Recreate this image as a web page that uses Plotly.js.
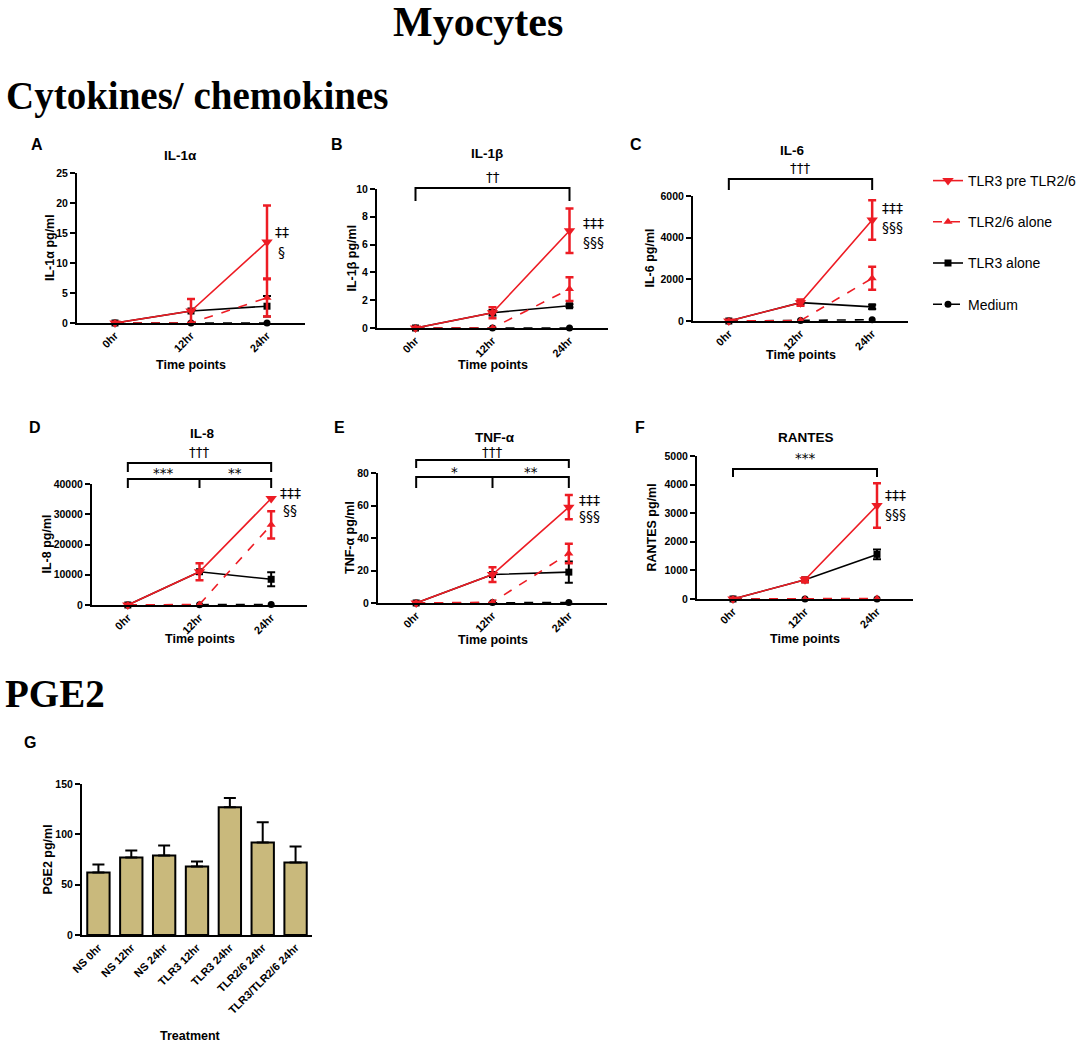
<!DOCTYPE html>
<html>
<head>
<meta charset="utf-8">
<script src="https://cdn.plot.ly/plotly-3.0.1.min.js"></script>
<style>
  body { margin: 0; background: #fff; }
  #chart { width: 1084px; height: 1044px; }
</style>
</head>
<body>
<div id="chart"></div>
<script>
// ---- data ----
const timePoints = ["0hr", "12hr", "24hr"];
const seriesNames = ["TLR3 pre TLR2/6", "TLR2/6 alone", "TLR3 alone", "Medium"];

// rows follow seriesNames: mean, then error (SEM)
const il1aMean = [[0, 2, 13.5], [0, 0, 4.2], [0, 2, 2.8], [0, 0, 0]];
const il1aErr = [[0, 2, 6.1], [0, 0, 3.1], [0, 0, 1.7], [0, 0, 0]];

const il1bMean = [[0, 1.1, 7.0], [0, 0, 2.8], [0, 1.1, 1.6], [0, 0, 0]];
const il1bErr = [[0, 0.4, 1.6], [0, 0, 0.85], [0, 0.2, 0.1], [0, 0, 0]];

const il6Mean = [[0, 880, 4850], [0, 20, 2050], [0, 880, 680], [0, 20, 60]];
const il6Err = [[0, 150, 950], [0, 0, 550], [0, 80, 100], [0, 0, 0]];

const il8Mean = [[0, 11000, 35200], [0, 200, 26500], [0, 11000, 8500], [0, 100, 200]];
const il8Err = [[0, 2800, 0], [0, 0, 4500], [0, 0, 2300], [0, 0, 0]];

const tnfMean = [[0, 17.5, 59], [0, 0.5, 30.5], [0, 17.5, 19], [0, 0.3, 0.3]];
const tnfErr = [[0, 4.5, 7.5], [0, 0, 6], [0, 0, 6.5], [0, 0, 0]];

const rantesMean = [[0, 670, 3270], [0, 0, 20], [0, 670, 1560], [0, 0, 0]];
const rantesErr = [[0, 80, 780], [0, 0, 0], [0, 60, 170], [0, 0, 0]];

const pgeLabels = ["NS 0hr", "NS 12hr", "NS 24hr", "TLR3 12hr", "TLR3 24hr", "TLR2/6 24hr", "TLR3/TLR2/6 24hr"];
const pgeMean = [62, 77, 79, 68, 127, 92, 72];
const pgeErr = [8, 7, 10, 5, 9, 20, 16];

// ---- styling ----
const W = 1084, H = 1044;
const px = (v) => v / W;
const py = (v) => 1 - v / H;
const sans = "Liberation Sans, Arial, sans-serif";
const symFont = "DejaVu Sans, Liberation Sans, sans-serif";
const serif = "Liberation Serif, Times New Roman, serif";
const red = "#ed1c24";

const seriesStyle = [
  { color: red, dash: "solid", symbol: "triangle-down", size: 10, err: 2.5 },
  { color: red, dash: "dash", symbol: "triangle-up", size: 8, err: 2.5 },
  { color: "black", dash: "solid", symbol: "square", size: 7, err: 2 },
  { color: "black", dash: "dash", symbol: "circle", size: 7, err: 2 },
];

// panel boxes in pixels
const panels = [
  { letter: "A", name: "IL-1α", ytitle: "IL-1α pg/ml", mean: il1aMean, err: il1aErr,
    x: [77, 305], y: [173, 323], ymax: 25, dtick: 5, letterAt: [37, 145], titleAt: [180, 155],
    ytitleX: 50, xtitleY: 365,
    sig: [["‡‡", 282, 232], ["§", 282, 252]], brackets: [], bracketText: [] },
  { letter: "B", name: "IL-1β", ytitle: "IL-1β pg/ml", mean: il1bMean, err: il1bErr,
    x: [377, 608], y: [189, 328], ymax: 10, dtick: 2, letterAt: [337, 145], titleAt: [487, 153],
    ytitleX: 351, xtitleY: 365,
    sig: [["‡‡‡", 593, 223], ["§§§", 593, 242]],
    brackets: [[0, 2, 188, 201]], bracketText: [["††", 1, 177]] },
  { letter: "C", name: "IL-6", ytitle: "IL-6 pg/ml", mean: il6Mean, err: il6Err,
    x: [693, 908], y: [196, 321], ymax: 6000, dtick: 2000, letterAt: [636, 145], titleAt: [792, 150],
    ytitleX: 649, xtitleY: 355, legend: true,
    sig: [["‡‡‡", 892, 208], ["§§§", 892, 227]],
    brackets: [[0, 2, 179, 190]], bracketText: [["†††", 1, 168]] },
  { letter: "D", name: "IL-8", ytitle: "IL-8 pg/ml", mean: il8Mean, err: il8Err,
    x: [92, 307], y: [484, 605], ymax: 40000, dtick: 10000, letterAt: [35, 427], titleAt: [202, 434],
    ytitleX: 46, xtitleY: 639,
    sig: [["‡‡‡", 290, 493], ["§§", 290, 510]],
    brackets: [[0, 2, 463, 472], [0, 2, 479, 488, 1]],
    bracketText: [["†††", 1, 452], ["***", 0.5, 473], ["**", 1.5, 473]] },
  { letter: "E", name: "TNF-α", ytitle: "TNF-α pg/ml", mean: tnfMean, err: tnfErr,
    x: [378, 607], y: [473, 603], ymax: 80, dtick: 20, letterAt: [339, 427], titleAt: [495, 437],
    ytitleX: 350, xtitleY: 640,
    sig: [["‡‡‡", 589, 500], ["§§§", 589, 516]],
    brackets: [[0, 2, 460, 468], [0, 2, 477, 488, 1]],
    bracketText: [["†††", 1, 452], ["*", 0.5, 472], ["**", 1.5, 472]] },
  { letter: "F", name: "RANTES", ytitle: "RANTES pg/ml", mean: rantesMean, err: rantesErr,
    x: [697, 913], y: [456, 599], ymax: 5000, dtick: 1000, letterAt: [640, 427], titleAt: [806, 437],
    ytitleX: 651, xtitleY: 639,
    sig: [["‡‡‡", 895, 495], ["§§§", 895, 514]],
    brackets: [[0, 2, 469, 477]], bracketText: [["***", 1, 458]] },
];

const note = (text, x, y, opts) => Object.assign({
  text: text, x: px(x), y: py(y), xref: "paper", yref: "paper",
  showarrow: false, xanchor: "center", yanchor: "middle",
  font: { family: sans, size: 13, color: "black" },
}, opts || {});

const boldFont = (size) => ({ family: sans, size: size, color: "black", weight: "bold" });

const data = [];
const shapes = [];
const annotations = [];
const layout = {
  width: W, height: H,
  margin: { l: 0, r: 0, t: 0, b: 0 },
  paper_bgcolor: "white", plot_bgcolor: "white",
  showlegend: true,
  legend: {
    x: px(928), y: py(165), xanchor: "left", yanchor: "top",
    font: { family: sans, size: 14, color: "black" },
    tracegroupgap: 20, bgcolor: "rgba(0,0,0,0)",
  },
};

const axisCommon = {
  showline: true, linewidth: 2, linecolor: "black",
  showgrid: false, zeroline: false, fixedrange: true,
};

const yAxisCommon = Object.assign({}, axisCommon, {
  ticks: "outside", ticklen: 5, tickwidth: 2, tickcolor: "black",
  tickformat: "d", tickfont: boldFont(10.5),
});

const toNaN = (arr) => arr.map((v) => (v === 0 ? NaN : v));

panels.forEach((p, i) => {
  const n = i + 1;
  const xa = n === 1 ? "x" : "x" + n;
  const ya = n === 1 ? "y" : "y" + n;

  layout["xaxis" + (n === 1 ? "" : n)] = Object.assign({}, axisCommon, {
    type: "category", range: [-0.5, 2.5],
    domain: [px(p.x[0]), px(p.x[1])], anchor: ya,
    ticks: "", tickangle: -45, tickfont: boldFont(11),
  });
  layout["yaxis" + (n === 1 ? "" : n)] = Object.assign({}, yAxisCommon, {
    range: [0, p.ymax], dtick: p.dtick,
    domain: [py(p.y[1]), py(p.y[0])], anchor: xa,
  });

  // draw medium first so TLR3 pre TLR2/6 ends on top
  [3, 2, 1, 0].forEach((s) => {
    const st = seriesStyle[s];
    data.push({
      type: "scatter", mode: "lines+markers",
      x: timePoints, y: p.mean[s], xaxis: xa, yaxis: ya,
      name: seriesNames[s], legendgroup: seriesNames[s], legendrank: s + 1,
      showlegend: !!p.legend,
      line: { color: st.color, width: 1.6, dash: st.dash },
      marker: { color: st.color, symbol: st.symbol, size: st.size },
      error_y: { type: "data", array: toNaN(p.err[s]), visible: true,
        color: st.color, thickness: st.err, width: 4 },
      cliponaxis: false, hoverinfo: "skip",
    });
  });

  p.brackets.forEach((b) => {
    const line = { color: "black", width: 2 };
    shapes.push({ type: "path", xref: xa, yref: "paper", line: line,
      path: "M " + b[0] + "," + py(b[3]) + " L " + b[0] + "," + py(b[2]) +
            " L " + b[1] + "," + py(b[2]) + " L " + b[1] + "," + py(b[3]) });
    if (b.length > 4) {
      shapes.push({ type: "line", xref: xa, yref: "paper", line: line,
        x0: b[4], x1: b[4], y0: py(b[2]), y1: py(b[3]) });
    }
  });
  p.bracketText.forEach((t) => {
    annotations.push({ text: t[0], x: t[1], y: py(t[2]), xref: xa, yref: "paper",
      showarrow: false, xanchor: "center", yanchor: "middle",
      font: { family: symFont, size: 13.5, color: "black" } });
  });
  p.sig.forEach((t) => {
    annotations.push(note(t[0], t[1], t[2], { font: { family: symFont, size: 14, color: "black" } }));
  });

  annotations.push(note(p.letter, p.letterAt[0], p.letterAt[1], { font: boldFont(16) }));
  annotations.push(note(p.name, p.titleAt[0], p.titleAt[1], { font: boldFont(13.5) }));
  annotations.push(note(p.ytitle, p.ytitleX, (p.y[0] + p.y[1]) / 2, { textangle: -90, font: boldFont(12.5) }));
  annotations.push(note("Time points", (p.x[0] + p.x[1]) / 2, p.xtitleY, { font: boldFont(12.5) }));
});

// ---- panel G: PGE2 bars ----
layout.xaxis7 = Object.assign({}, axisCommon, {
  type: "category", range: [-0.5, 6.5], domain: [px(82), px(312)], anchor: "y7",
  ticks: "", tickangle: -45, tickfont: boldFont(11),
});
layout.yaxis7 = Object.assign({}, yAxisCommon, {
  range: [0, 150], dtick: 50, domain: [py(935), py(784)], anchor: "x7",
});
data.push({
  type: "bar", x: pgeLabels, y: pgeMean, xaxis: "x7", yaxis: "y7",
  width: 0.68, showlegend: false, hoverinfo: "skip",
  marker: { color: "#c9b97c", line: { color: "black", width: 2 } },
  error_y: { type: "data", array: pgeErr, arrayminus: pgeErr.map(() => 0), symmetric: false,
    color: "black", thickness: 2, width: 6 },
});
annotations.push(note("G", 30, 742, { font: boldFont(16) }));
annotations.push(note("PGE2 pg/ml", 47, (784 + 935) / 2, { textangle: -90, font: boldFont(12.5) }));
annotations.push(note("Treatment", 190, 1036, { font: boldFont(12.5) }));

// ---- headings ----
annotations.push(note("Myocytes", 478, 22, { font: { family: serif, size: 42, color: "black", weight: "bold" } }));
annotations.push(note("Cytokines/ chemokines", 4, 96,
  { xanchor: "left", font: { family: serif, size: 39, color: "black", weight: "bold" } }));
annotations.push(note("PGE2", 3, 693,
  { xanchor: "left", font: { family: serif, size: 39, color: "black", weight: "bold" } }));

layout.shapes = shapes;
layout.annotations = annotations;

Plotly.newPlot("chart", data, layout, { staticPlot: true, responsive: false });
</script>
</body>
</html>
